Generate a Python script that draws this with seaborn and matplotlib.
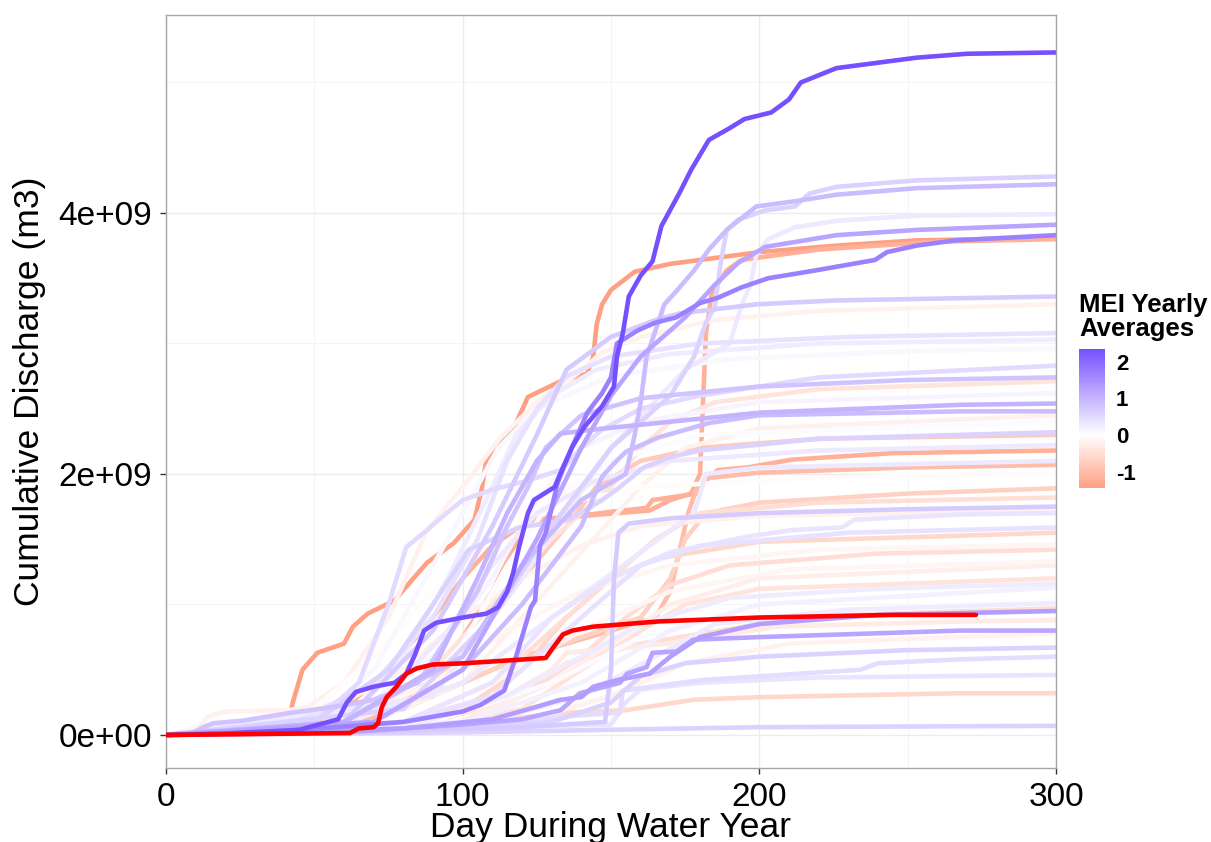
import matplotlib
matplotlib.use("Agg")
import matplotlib.pyplot as plt
from matplotlib.colors import LinearSegmentedColormap, Normalize
from matplotlib.cm import ScalarMappable
import numpy as np
import pandas as pd
import seaborn as sns

# Cumulative discharge curves, (day of water year, discharge in 1e9 m3)
wy01 = [(0, 0), (20, 0.01), (45, 0.04), (58, 0.12), (61, 0.25), (64, 0.33), (70, 0.37), (77, 0.40),
        (81, 0.47), (84, 0.62), (87, 0.80), (91, 0.86), (100, 0.90), (108, 0.93), (112, 0.98),
        (115, 1.10), (117, 1.24), (119, 1.44), (122, 1.70), (124, 1.80), (131, 1.90), (134, 2.06),
        (137, 2.21), (141, 2.36), (144, 2.44), (147, 2.52), (151, 2.67), (152, 2.90), (154, 3.08),
        (156, 3.36), (160, 3.52), (164, 3.63), (167, 3.90), (173, 4.15), (177, 4.33), (183, 4.56),
        (190, 4.65), (195, 4.72), (204, 4.77), (210, 4.87), (214, 5.00), (226, 5.11), (253, 5.19),
        (270, 5.22), (300, 5.23)]
wy02 = [(0, 0), (80, 0.2), (110, 0.9), (130, 1.6), (150, 2.2), (170, 2.6), (178, 2.9), (182, 3.16),
        (185, 3.28), (187, 3.62), (189, 3.87), (193, 3.95), (202, 4.02), (212, 4.05), (217, 4.15),
        (226, 4.20), (253, 4.25), (300, 4.28)]
wy03 = [(0, 0), (60, 0.1), (100, 0.6), (120, 1.3), (140, 1.8), (155, 2.0), (158, 2.3), (160, 2.55),
        (162, 2.9), (165, 3.1), (168, 3.3), (172, 3.4), (178, 3.56), (183, 3.72), (189, 3.87),
        (194, 3.96), (199, 4.05), (212, 4.09), (226, 4.14), (253, 4.19), (300, 4.22)]
wy04 = [(0, 0), (90, 0.3), (120, 1.2), (150, 2.2), (175, 2.8), (190, 3.0), (194, 3.29), (197, 3.45),
        (199, 3.68), (203, 3.80), (212, 3.89), (226, 3.94), (253, 3.98), (300, 3.99)]
wy05 = [(0, 0), (70, 0.1), (100, 0.5), (125, 1.5), (140, 2.2), (150, 2.6), (160, 2.9), (175, 3.2),
        (185, 3.45), (193, 3.62), (202, 3.74), (226, 3.83), (253, 3.87), (300, 3.91)]
wy06 = [(0, 0), (40, 0.03), (80, 0.1), (100, 0.18), (106, 0.23), (114, 0.34), (118, 0.60),
        (123, 0.98), (124.4, 1.03), (126, 1.45), (128, 1.55), (132, 1.93), (136, 2.16), (142, 2.47),
        (147, 2.62), (150, 2.74), (152, 3.0), (159, 3.10), (165, 3.16), (172, 3.20), (180, 3.31),
        (186, 3.35), (194, 3.43), (203, 3.50), (219, 3.56), (239, 3.64), (243, 3.70), (253, 3.75),
        (266, 3.79), (300, 3.83)]
wy07 = [(0, 0), (20, 0.01), (40, 0.05), (41, 0.09), (43, 0.27), (46, 0.50), (51, 0.63), (60, 0.70),
        (63, 0.83), (68, 0.93), (77, 1.03), (83, 1.19), (88, 1.32), (97, 1.47), (104, 1.65),
        (106.4, 1.88), (108, 2.11), (110, 2.15), (117, 2.34), (122, 2.59), (133, 2.71), (142, 2.77),
        (144, 2.90), (145.2, 3.15), (147, 3.30), (150, 3.41), (158, 3.55), (170, 3.61), (180, 3.64),
        (200, 3.70), (226, 3.75), (253, 3.79), (300, 3.81)]
wy08 = [(0, 0), (60, 0.1), (90, 0.4), (110, 1.1), (122, 1.65), (136, 1.67), (163, 1.72), (170, 1.80),
        (177, 1.85), (180, 2.0), (182, 3.08), (184, 3.39), (189, 3.56), (194, 3.64), (220, 3.72),
        (260, 3.78), (300, 3.80)]
wy09 = [(0, 0), (60, 0.1), (90, 0.8), (110, 1.6), (125, 2.3), (135, 2.8), (150, 3.05), (165, 3.18),
        (173, 3.23), (199, 3.30), (226, 3.33), (300, 3.36)]
wy10 = [(0, 0), (40, 0.1), (60, 0.4), (75, 0.9), (88, 1.57), (100, 1.9), (112, 2.26), (125, 2.55),
        (137, 2.74), (147, 2.93), (160, 3.05), (185, 3.18), (220, 3.25), (300, 3.30)]
wy11 = [(0, 0), (40, 0.05), (70, 0.4), (90, 0.9), (105, 1.5), (115, 2.1), (125, 2.5), (135, 2.75),
        (150, 2.9), (180, 3.0), (230, 3.05), (300, 3.08)]
wy12 = [(0, 0), (60, 0.1), (80, 0.6), (95, 1.2), (110, 1.9), (118, 2.3), (130, 2.6), (145, 2.8),
        (170, 2.92), (220, 3.0), (300, 3.03)]
wy13 = [(0, 0), (50, 0.1), (70, 0.5), (85, 1.1), (100, 1.7), (112, 2.2), (125, 2.5), (150, 2.75),
        (190, 2.88), (250, 2.94), (300, 2.96)]
wy14 = [(0, 0), (50, 0.1), (65, 0.4), (75, 1.0), (81, 1.44), (88, 1.57), (93, 1.67), (100, 1.80),
        (110, 1.88), (122, 1.95), (133, 2.03), (140, 2.2), (147, 2.34), (160, 2.5), (180, 2.6),
        (220, 2.74), (300, 2.83)]
wy15 = [(0, 0), (9, 0.015), (12.5, 0.06), (16, 0.09), (26, 0.11), (42, 0.17), (48.5, 0.19),
        (58, 0.22), (70, 0.27), (85, 0.4), (95, 0.75), (105, 1.1), (115, 1.6), (122, 1.9), (128, 2.2),
        (140, 2.45), (160, 2.58), (200, 2.67), (250, 2.72), (300, 2.74)]
wy16 = [(0, 0), (60, 0.1), (90, 0.5), (110, 1.0), (130, 1.5), (150, 1.9), (160, 2.2), (170, 2.4),
        (185, 2.55), (220, 2.65), (300, 2.71)]
wy17 = [(0, 0), (60, 0.1), (90, 0.6), (110, 1.2), (125, 1.8), (140, 2.2), (160, 2.4), (200, 2.55),
        (300, 2.62)]
wy18 = [(0, 0), (60, 0.1), (90, 0.5), (105, 1.2), (115, 1.7), (125, 2.1), (133, 2.31), (144, 2.34),
        (200, 2.47), (268, 2.53), (300, 2.54)]
wy19 = [(0, 0), (70, 0.1), (100, 0.5), (120, 1.0), (140, 1.6), (147, 1.98), (151, 2.08), (155, 2.17),
        (166, 2.28), (183, 2.39), (200, 2.45), (268, 2.48), (300, 2.48)]
wy20 = [(0, 0), (70, 0.1), (100, 0.4), (120, 0.9), (140, 1.4), (160, 1.9), (175, 2.2), (200, 2.35),
        (300, 2.45)]
wy21 = [(0, 0), (80, 0.2), (100, 0.7), (115, 1.3), (130, 1.8), (150, 2.1), (180, 2.3), (300, 2.40)]
wy22 = [(0, 0), (50, 0.1), (75, 0.5), (90, 1.0), (102, 1.42), (119, 1.59), (136, 1.65), (147, 1.80),
        (153, 1.90), (161, 2.05), (170, 2.13), (180, 2.18), (220, 2.27), (300, 2.32)]
wy23 = [(0, 0), (70, 0.1), (100, 0.6), (120, 1.2), (135, 1.6), (145, 1.9), (160, 2.1), (180, 2.2),
        (220, 2.27), (300, 2.30)]
wy24 = [(0, 0), (70, 0.2), (95, 0.8), (110, 1.3), (125, 1.7), (145, 1.95), (170, 2.1), (220, 2.18),
        (300, 2.22)]
wy25 = [(0, 0), (45, 0.05), (60, 0.2), (75, 0.5), (90, 0.9), (100, 1.2), (110, 1.45), (122, 1.64),
        (136, 1.67), (150, 1.71), (162, 1.74), (164, 1.80), (179, 1.85), (182, 1.95), (186, 2.03),
        (196, 2.05), (211, 2.11), (245, 2.16), (300, 2.18)]
wy26 = [(0, 0), (60, 0.1), (100, 0.4), (130, 0.9), (160, 1.4), (178, 1.7), (182, 2.0), (200, 2.05),
        (300, 2.10)]
wy27 = [(0, 0), (60, 0.05), (90, 0.3), (120, 0.6), (150, 0.8), (165, 0.9), (170, 1.1), (173, 1.4),
        (176, 1.7), (179, 1.9), (183, 1.97), (200, 2.01), (250, 2.05), (300, 2.07)]
wy28 = [(0, 0), (50, 0.2), (70, 0.6), (90, 1.1), (110, 1.5), (130, 1.75), (160, 1.9), (220, 1.97),
        (300, 2.01)]
wy29 = [(0, 0), (80, 0.2), (110, 0.5), (140, 0.75), (160, 0.9), (170, 1.2), (175, 1.5), (182, 1.7),
        (200, 1.78), (250, 1.85), (300, 1.89)]
wy30 = [(0, 0), (80, 0.1), (110, 0.4), (130, 0.8), (150, 1.2), (165, 1.5), (180, 1.7), (220, 1.78),
        (300, 1.82)]
wy31 = [(0, 0), (80, 0.03), (120, 0.06), (148, 0.10), (150, 0.5), (151, 1.2), (152.5, 1.55),
        (156, 1.62), (170, 1.66), (200, 1.70), (250, 1.73), (300, 1.75)]
wy32 = [(0, 0), (11.5, 0.06), (14, 0.14), (20, 0.18), (41, 0.19), (60, 0.25), (80, 0.5), (100, 0.9),
        (120, 1.2), (140, 1.45), (160, 1.6), (200, 1.68), (300, 1.72)]
wy33 = [(0, 0), (80, 0.1), (110, 0.4), (130, 0.9), (150, 1.2), (170, 1.4), (196, 1.52), (211, 1.57),
        (228, 1.59), (232, 1.65), (268, 1.69), (300, 1.70)]
wy34 = [(0, 0), (80, 0.1), (110, 0.3), (130, 0.7), (145, 1.0), (160, 1.3), (180, 1.45), (230, 1.55),
        (300, 1.59)]
wy35 = [(0, 0), (70, 0.05), (100, 0.2), (120, 0.5), (135, 0.9), (150, 1.2), (165, 1.35), (200, 1.48),
        (300, 1.55)]
wy36 = [(0, 0), (60, 0.1), (90, 0.4), (115, 0.8), (140, 1.1), (170, 1.3), (220, 1.42), (300, 1.46)]
wy37 = [(0, 0), (90, 0.1), (120, 0.3), (140, 0.6), (155, 0.9), (170, 1.15), (190, 1.3), (240, 1.39),
        (300, 1.42)]
wy38 = [(0, 0), (80, 0.1), (110, 0.4), (140, 0.8), (170, 1.1), (210, 1.27), (300, 1.33)]
wy39 = [(0, 0), (100, 0.1), (130, 0.4), (150, 0.7), (170, 1.0), (200, 1.2), (300, 1.30)]
wy40 = [(0, 0), (90, 0.05), (120, 0.2), (140, 0.5), (160, 0.8), (175, 1.0), (200, 1.12), (300, 1.20)]
wy41 = [(0, 0), (80, 0.05), (115, 0.3), (140, 0.6), (160, 0.85), (190, 1.05), (240, 1.12), (300, 1.16)]
wy42 = [(0, 0), (100, 0.1), (140, 0.4), (170, 0.8), (200, 1.0), (300, 1.13)]
wy43 = [(0, 0), (90, 0.1), (130, 0.4), (160, 0.75), (190, 0.92), (300, 1.03)]
wy44 = [(0, 0), (100, 0.05), (140, 0.3), (165, 0.6), (185, 0.85), (230, 0.96), (300, 1.01)]
wy45 = [(0, 0), (90, 0.1), (120, 0.3), (135, 0.55), (160, 0.7), (200, 0.85), (230, 0.92), (300, 0.97)]
wy46 = [(0, 0), (80, 0.05), (110, 0.12), (124, 0.21), (133, 0.27), (140, 0.29), (144, 0.37),
        (152, 0.42), (163, 0.47), (170, 0.6), (180, 0.75), (200, 0.85), (240, 0.92), (300, 0.95)]
wy47 = [(0, 0), (100, 0.1), (130, 0.5), (135, 0.63), (169, 0.70), (206, 0.83), (268, 0.87), (300, 0.88)]
wy48 = [(0, 0), (60, 0.02), (100, 0.08), (120, 0.12), (133, 0.19), (139.5, 0.32), (153, 0.40),
        (155.4, 0.47), (162, 0.52), (164, 0.63), (172, 0.64), (177.6, 0.73), (200, 0.75),
        (268, 0.80), (300, 0.80)]
wy49 = [(0, 0), (120, 0.1), (150, 0.3), (175, 0.55), (210, 0.7), (300, 0.78)]
wy50 = [(0, 0), (80, 0.03), (130, 0.1), (150, 0.25), (160, 0.45), (175, 0.55), (200, 0.60),
        (250, 0.65), (300, 0.67)]
wy51 = [(0, 0), (80, 0.03), (120, 0.1), (133, 0.14), (153, 0.17), (154, 0.34), (180, 0.42),
        (234, 0.50), (240, 0.55), (268, 0.58), (300, 0.60)]
wy52 = [(0, 0), (100, 0.05), (150, 0.08), (155, 0.25), (160, 0.35), (180, 0.40), (220, 0.44), (300, 0.46)]
wy53 = [(0, 0), (60, 0.02), (100, 0.08), (133, 0.17), (155, 0.19), (178, 0.27), (189, 0.28),
        (200, 0.29), (268, 0.32), (300, 0.32)]
wy54 = [(0, 0), (50, 0.01), (100, 0.02), (150, 0.04), (200, 0.06), (300, 0.07)]

# Current water year (highlighted)
current_year = [(0, 0), (62, 0.015), (65, 0.05), (70, 0.06), (71.5, 0.09), (72.7, 0.21), (74.4, 0.29),
                (77.7, 0.37), (81, 0.47), (84.5, 0.51), (90, 0.54), (101, 0.55), (128, 0.59),
                (130.5, 0.67), (133.8, 0.77), (137, 0.80), (144, 0.83), (166, 0.87), (200, 0.90),
                (245, 0.92), (273, 0.92)]

# Yearly average Multivariate ENSO Index for each curve
mei = [2.35, 0.6, 0.9, 0.3, 1.2, 1.7, -1.45, -1.2, 0.7, -0.2,
       0.4, 0.25, 0.1, 0.5, 0.8, -0.4, 0.15, 1.0, 0.9, -0.2,
       0.05, 0.6, -0.8, 0.3, -1.2, 0.3, -1.0, -0.05, -0.7, -0.5,
       0.7, -0.2, 0.35, 0.4, -0.6, -0.15, -0.5, -0.15, -0.25, -0.4,
       0.25, 0.2, 0.05, 0.25, -0.5, 1.3, -0.3, 1.2, -0.2, 0.6,
       0.45, 0.35, -0.6, 0.6]

curves = [wy01, wy02, wy03, wy04, wy05, wy06, wy07, wy08, wy09, wy10,
          wy11, wy12, wy13, wy14, wy15, wy16, wy17, wy18, wy19, wy20,
          wy21, wy22, wy23, wy24, wy25, wy26, wy27, wy28, wy29, wy30,
          wy31, wy32, wy33, wy34, wy35, wy36, wy37, wy38, wy39, wy40,
          wy41, wy42, wy43, wy44, wy45, wy46, wy47, wy48, wy49, wy50,
          wy51, wy52, wy53, wy54]

x_ticks = [0, 100, 200, 300]
y_ticks = [0, 2e9, 4e9]
y_tick_labels = ["0e+00", "2e+09", "4e+09"]
cbar_ticks = [-1, 0, 1, 2]

rows = []
for k, (pts, m) in enumerate(zip(curves, mei)):
    for d, v in pts:
        rows.append({"curve": k, "day": d, "discharge": v * 1e9, "mei": m})
df = pd.DataFrame(rows)
cur = pd.DataFrame({"day": [p[0] for p in current_year],
                    "discharge": [p[1] * 1e9 for p in current_year]})

sns.set_theme(style="white")
plt.rcParams["font.family"] = ["Liberation Sans", "DejaVu Sans"]
plt.rcParams["text.color"] = "black"

vmin, vmax = min(mei), max(mei)
mid = (0 - vmin) / (vmax - vmin)
cmap = LinearSegmentedColormap.from_list(
    "mei", [(0.0, "#FFA083"), (mid, "#FFFFFF"), (1.0, "#7650FF")])
norm = Normalize(vmin=vmin, vmax=vmax)

W, H = 1211, 842
fig = plt.figure(figsize=(W / 100, H / 100), dpi=100)
ax = fig.add_axes([166 / W, 1 - 768 / H, 890 / W, 753 / H])

ax.set_xlim(0, 300)
ax.set_ylim(-0.253e9, 5.517e9)
for x in [50, 150, 250]:
    ax.axvline(x, color="#F3F3F3", lw=0.6, zorder=0)
for y in [1e9, 3e9, 5e9]:
    ax.axhline(y, color="#F3F3F3", lw=0.6, zorder=0)
for x in x_ticks:
    ax.axvline(x, color="#ECECEC", lw=1.0, zorder=0)
for y in y_ticks:
    ax.axhline(y, color="#ECECEC", lw=1.0, zorder=0)

sns.lineplot(data=df, x="day", y="discharge", hue="mei", units="curve", estimator=None,
             palette=cmap, hue_norm=norm, legend=False, sort=False, linewidth=3.3,
             ax=ax, zorder=2)
sns.lineplot(data=cur, x="day", y="discharge", color="#FF0000", linewidth=3.3,
             sort=False, ax=ax, zorder=3)

ax.set_xticks(x_ticks)
ax.set_xticklabels([str(t) for t in x_ticks])
ax.set_yticks(y_ticks)
ax.set_yticklabels(y_tick_labels)
ax.tick_params(axis="both", which="major", labelsize=24, length=4, width=1,
               color="#333333", labelcolor="black", direction="out", pad=6,
               bottom=True, left=True)
for s in ax.spines.values():
    s.set_color("#A6A6A6")
    s.set_linewidth(1.0)

ax.set_xlabel("Day During Water Year", fontsize=25.5, color="black")
ax.xaxis.label.set_va("baseline")
ax.xaxis.set_label_coords(0.5, (768 - 837) / 753)
ax.set_ylabel("Cumulative Discharge (m3)", fontsize=25.5, color="black")
ax.yaxis.set_label_coords((46 - 166) / 890, 0.5)

# Colour bar legend
cax = fig.add_axes([1079 / W, 1 - 488 / H, 26 / W, 139 / H])
sm = ScalarMappable(norm=norm, cmap=cmap)
cb = fig.colorbar(sm, cax=cax, ticks=cbar_ticks)
cb.outline.set_visible(False)
cb.ax.set_yticklabels([str(t) for t in cbar_ticks], fontsize=16, fontweight="bold",
                      color="black")
cb.ax.tick_params(left=True, right=True, labelleft=False, labelright=True,
                  direction="in", color="white", length=5, width=1, pad=8,
                  labelcolor="black")
fig.text(1079 / W, 1 - 293 / H, "MEI Yearly\nAverages", fontsize=18.5, fontweight="bold",
         color="black", va="top", ha="left", linespacing=1.0)

fig.savefig("out.png", dpi=100)
